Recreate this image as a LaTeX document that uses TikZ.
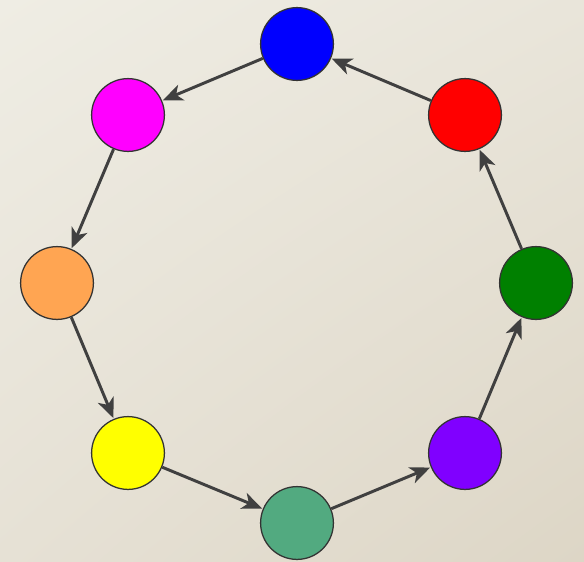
\documentclass[tikz,border=0pt]{standalone}
\usepackage{xcolor}
\usepackage{tikz}
\usetikzlibrary{positioning,shapes,arrows.meta,shadings}
\definecolor{bgtl}{HTML}{EFEDE4}
\definecolor{bgtr}{HTML}{E9E5DA}
\definecolor{bgbl}{HTML}{E6E1D5}
\definecolor{bgbr}{HTML}{DDD6C6}
\definecolor{ringblue}{HTML}{0000FF}
\definecolor{ringred}{HTML}{FF0000}
\definecolor{ringmagenta}{HTML}{FF00FF}
\definecolor{ringyellow}{HTML}{FFFF00}
\definecolor{ringpurple}{HTML}{8000FF}
\definecolor{ringteal}{HTML}{52AA80}
\definecolor{ringorange}{HTML}{FFA552}
\definecolor{ringgreen}{HTML}{008000}
\definecolor{arrowgray}{HTML}{404040}
\tikzset{
    ball/.style={circle, draw=black!80, line width=0.9pt, minimum size=1.82cm, inner sep=0pt},
    link/.style={draw=arrowgray, line width=2.1pt, -{Stealth[length=5mm, width=4.2mm, inset=1.4mm]}, shorten >=0.5pt}
}
\begin{document}
\begin{tikzpicture}[x=0.025cm, y=-0.025cm]
    % Background
    \useasboundingbox (0,0) rectangle (584,561);
    \shade[upper left=bgtl, upper right=bgtr, lower left=bgbl, lower right=bgbr] (0,0) rectangle (584,561);

    % Circles
    \node[ball, fill=ringblue] (blue) at (297,44) {};
    \node[ball, fill=ringred] (red) at (465,115) {};
    \node[ball, fill=ringgreen] (green) at (536,283) {};
    \node[ball, fill=ringpurple] (purple) at (465,453) {};
    \node[ball, fill=ringteal] (teal) at (297,523) {};
    \node[ball, fill=ringyellow] (yellow) at (128,453) {};
    \node[ball, fill=ringorange] (orange) at (57,283) {};
    \node[ball, fill=ringmagenta] (magenta) at (128,115) {};

    % Arrows
    \draw[link] (blue) -- (magenta);
    \draw[link] (magenta) -- (orange);
    \draw[link] (orange) -- (yellow);
    \draw[link] (yellow) -- (teal);
    \draw[link] (teal) -- (purple);
    \draw[link] (purple) -- (green);
    \draw[link] (green) -- (red);
    \draw[link] (red) -- (blue);

\end{tikzpicture}
\end{document}
